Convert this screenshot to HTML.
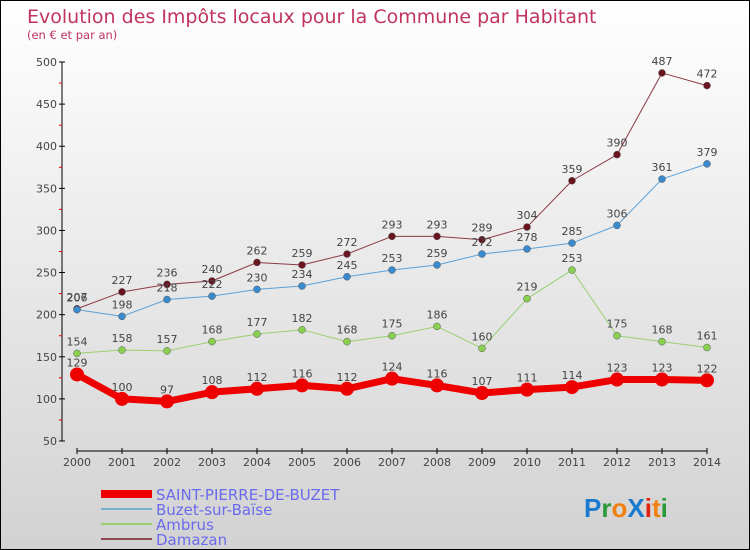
<!DOCTYPE html>
<html><head><meta charset="utf-8"><style>
body{margin:0}
#c{width:748px;height:548px;border:1px solid #000;background:linear-gradient(#fff,#d2d2d2);position:relative;overflow:hidden;font-family:"DejaVu Sans","Liberation Sans",sans-serif}
</style></head><body>
<div id="c">
<svg id="s" width="748" height="548" style="position:absolute;left:0;top:0">
<text x="26" y="22" font-size="19" fill="#c0345e">Evolution des Impôts locaux pour la Commune par Habitant</text>
<text x="26" y="38" font-size="11.5" fill="#c0345e">(en € et par an)</text>
<g id="axes"></g><g id="series"></g>
<g>
<line x1="100" y1="493" x2="151" y2="493" stroke="#e00" stroke-width="8"/>
<text x="155" y="499" font-size="15" fill="#6a6aee">SAINT-PIERRE-DE-BUZET</text>
<line x1="100" y1="508" x2="151" y2="508" stroke="#7aaed0" stroke-width="2"/>
<text x="155" y="514" font-size="15" fill="#6a6aee">Buzet-sur-Baïse</text>
<line x1="100" y1="523" x2="151" y2="523" stroke="#9ad070" stroke-width="2"/>
<text x="155" y="529" font-size="15" fill="#6a6aee">Ambrus</text>
<line x1="100" y1="538" x2="151" y2="538" stroke="#8a4a50" stroke-width="2"/>
<text x="155" y="544" font-size="15" fill="#6a6aee">Damazan</text>
</g>
<g font-size="26" font-weight="bold" font-family="Liberation Sans,sans-serif">
<text x="583" y="516"><tspan fill="#1a7ad0">P</tspan><tspan fill="#2a9a3a">r</tspan><tspan fill="#f08010">o</tspan><tspan fill="#1a7ad0">X</tspan><tspan fill="#e02010">i</tspan><tspan fill="#f08010">t</tspan><tspan fill="#2a9a3a">i</tspan></text>
</g>
</svg>
</div>
<script>
const years=["2000","2001","2002","2003","2004","2005","2006","2007","2008","2009","2010","2011","2012","2013","2014"];
const yTicks=[50,100,150,200,250,300,350,400,450,500];
const spb=[129,100,97,108,112,116,112,124,116,107,111,114,123,123,122];
const buzet=[206,198,218,222,230,234,245,253,259,272,278,285,306,361,379];
const ambrus=[154,158,157,168,177,182,168,175,186,160,219,253,175,168,161];
const damazan=[207,227,236,240,262,259,272,293,293,289,304,359,390,487,472];
const NS="http://www.w3.org/2000/svg";
function X(i){return 76+i*45;}
function Y(v){return 440-(v-50)*(379/450);}
function mk(t,a,p){const e=document.createElementNS(NS,t);for(const k in a)e.setAttribute(k,a[k]);p.appendChild(e);return e;}
const ax=document.getElementById('axes');
let yl=mk('line',{x1:61,y1:Y(500),x2:61,y2:Y(50),stroke:'#000'},ax);


yTicks.forEach(v=>{
  mk('line',{x1:58,y1:Y(v),x2:64,y2:Y(v),stroke:'#000'},ax);
  if(v<500){mk('line',{x1:58,y1:Y(v+25),x2:61,y2:Y(v+25),stroke:'#e00'},ax);}
  const t=mk('text',{x:56,y:Y(v)+4,'font-size':11,'text-anchor':'end',fill:'#444'},ax);t.textContent=v;
  
  
});
let xl=mk('line',{x1:X(0),y1:450,x2:X(14),y2:450,stroke:'#000'},ax);


years.forEach((y,i)=>{
  mk('line',{x1:X(i),y1:447,x2:X(i),y2:453,stroke:'#000'},ax);
  const t=mk('text',{x:X(i),y:465,'font-size':11,'text-anchor':'middle',fill:'#444'},ax);t.textContent=y;
  
  
});
const sg=document.getElementById('series');
function draw(arr,name,line,dot,w,r){
  const g=mk('g',{},sg);
  
  
  const p=mk('polyline',{points:arr.map((v,i)=>X(i)+','+Y(v)).join(' '),fill:'none',stroke:line,'stroke-width':w,'stroke-linejoin':'round'},g);
  
  
  arr.forEach((v,i)=>{
    const c=mk('circle',{cx:X(i),cy:Y(v),r:r,fill:dot,stroke:w>3?'none':'#555','stroke-width':0.5},g);
    
    
    const t=mk('text',{x:X(i),y:Y(v)-8,'font-size':11,'text-anchor':'middle',fill:'#444'},g);t.textContent=v;
    
    
  });
}
draw(damazan,'damazan','#8a3a44','#6a1420',1,3.5);
draw(buzet,'buzet','#5aa0d8','#3a8ad0',1,3.5);
draw(ambrus,'ambrus','#9ad070','#8ad050',1,3.5);
draw(spb,'saint-pierre','#e00','#e00',7,7);
</script>
</body></html>
